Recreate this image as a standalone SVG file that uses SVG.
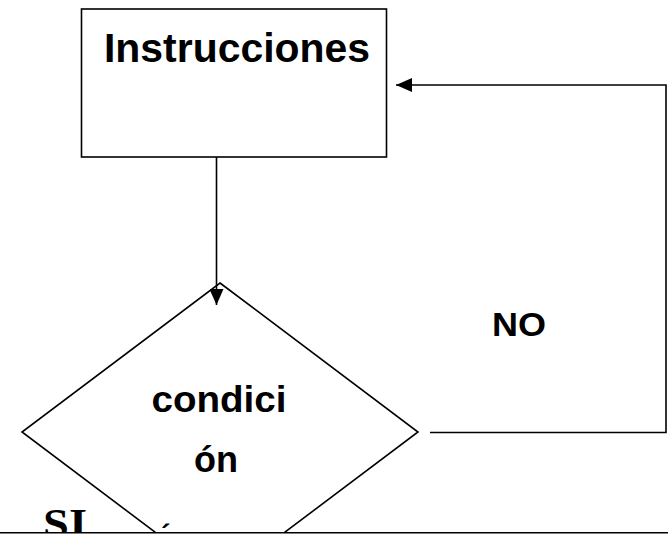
<svg xmlns="http://www.w3.org/2000/svg" width="668" height="534" viewBox="0 0 668 534">
<defs>
<style>
.shape{fill:#fff;stroke:#000;stroke-width:1.6}
.conn{fill:none;stroke:#000;stroke-width:1.6}
.lbl{font-family:"Liberation Sans",Arial,sans-serif;font-weight:bold;fill:#000}
.serif{font-family:"Liberation Serif","Times New Roman",serif;font-weight:bold;fill:#000}
</style>
<marker id="arr" viewBox="0 0 16 14" refX="16" refY="7" markerWidth="16" markerHeight="14" markerUnits="userSpaceOnUse" orient="auto">
<path d="M0,0 L16,7 L0,14 Z" fill="#000"/>
</marker>
</defs>
<rect width="668" height="534" fill="#fff"/>
<g id="instrucciones">
<rect class="shape" x="81.5" y="9" width="305" height="148"/>
<text class="lbl" x="237" y="62" font-size="40" text-anchor="middle" textLength="266" lengthAdjust="spacingAndGlyphs">Instrucciones</text>
</g>
<g id="condicion">
<polygon class="shape" points="220,283 418,432 220,581 22,432"/>
<text class="lbl" x="219" y="412" font-size="36" text-anchor="middle" textLength="135" lengthAdjust="spacingAndGlyphs">condici</text>
<text class="lbl" x="216" y="472" font-size="36" text-anchor="middle" textLength="44" lengthAdjust="spacingAndGlyphs">ón</text>
</g>
<g id="connectors">
<path class="conn" d="M216.5,157 V305" marker-end="url(#arr)"/>
<path class="conn" d="M430,432.5 H666 V85 H396" marker-end="url(#arr)"/>
</g>
<g id="labels">
<text class="lbl" x="519" y="336" font-size="33" text-anchor="middle" textLength="54" lengthAdjust="spacingAndGlyphs">NO</text>
<text class="serif" x="43" y="538" font-size="43" textLength="44" lengthAdjust="spacingAndGlyphs">SI</text>
<text class="lbl" x="161" y="545" font-size="29">´</text>
</g>
<rect x="0" y="532" width="668" height="2" fill="#fff"/>
<line x1="0" y1="532.8" x2="668" y2="532.8" stroke="#000" stroke-width="1.4"/>
</svg>
